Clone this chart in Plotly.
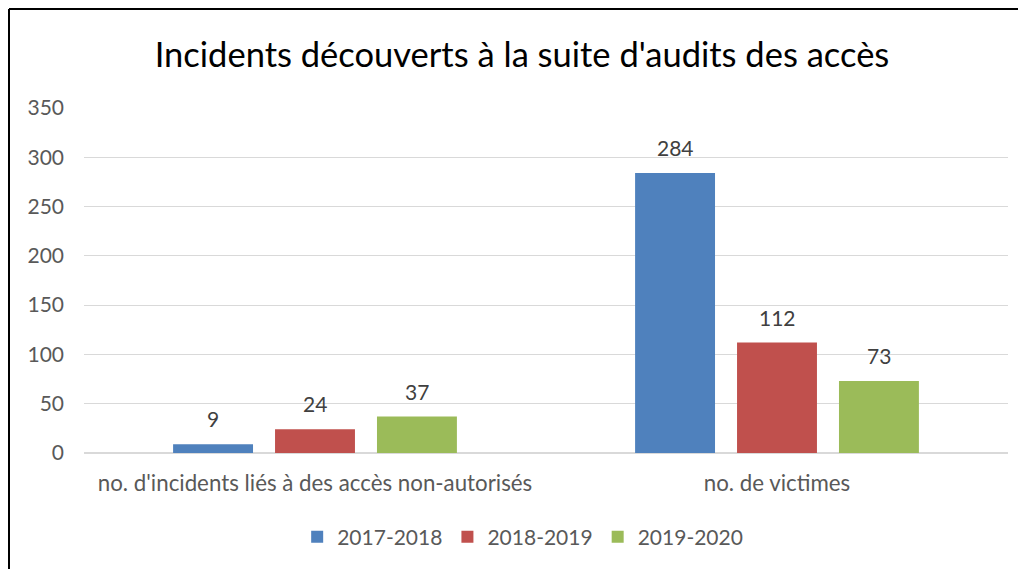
import plotly.graph_objects as go

categories = ["no. d'incidents liés à des accès non-autorisés", "no. de victimes"]
series_names = ["2017-2018", "2018-2019", "2019-2020"]
values_2017 = [9, 284]
values_2018 = [24, 112]
values_2019 = [37, 73]
colors = ["#4f81bd", "#c0504d", "#9bbb59"]
y_ticks = [0, 50, 100, 150, 200, 250, 300, 350]

FONT = "Lato, Open Sans, sans-serif"
series_values = [values_2017, values_2018, values_2019]

fig = go.Figure()
for name, vals, col in zip(series_names, series_values, colors):
    fig.add_trace(go.Bar(
        x=categories, y=vals, name=name, marker_color=col, marker_line_width=0,
    ))

# page has an 8px body margin, so the figure is drawn smaller and shifted
W, H = 1018, 561
L, R, T, B = 76, 18, 100, 116
pw, ph = W - L - R, H - T - B
bx = (1 - L) / pw
ty = (H - B - 1) / ph
rx = (W - L) / pw
slot_px = 102  # horizontal distance between bars inside a group

annotations = []
for i, vals in enumerate(series_values):
    for cat, v in zip(categories, vals):
        annotations.append(dict(
            x=cat, y=v, xref="x", yref="y", text=str(v), showarrow=False,
            xanchor="center", yanchor="bottom", xshift=(i - 1) * slot_px, yshift=11,
            font=dict(size=21, color="#404040", family=FONT),
        ))

fig.update_layout(
    width=W, height=H,
    margin=dict(l=L, r=R, t=T, b=B, autoexpand=False),
    paper_bgcolor="white", plot_bgcolor="white",
    barmode="group", bargap=0.338, bargroupgap=0.216,
    title=dict(text="Incidents découverts à la suite d'audits des accès",
               x=(514 - L) / pw, xanchor="center", y=1 - 47 / H, yanchor="middle",
               xref="paper",
               font=dict(size=34.5, color="#000000", family=FONT)),
    font=dict(family=FONT, color="#595959", size=21),
    xaxis=dict(showgrid=False, showline=False, ticks="", tickfont=dict(size=22.3, color="#595959"),
               ticklabelstandoff=15),
    yaxis=dict(range=[0, 350], tickvals=y_ticks, showgrid=True, gridcolor="#d9d9d9", gridwidth=1,
               zeroline=True, zerolinecolor="#d9d9d9", zerolinewidth=2,
               ticks="", tickfont=dict(size=21, color="#595959"), ticklabelstandoff=19),
    legend=dict(orientation="h", x=0.478 - 3 / pw, xanchor="center", y=(H - B - 529) / ph,
                yanchor="middle", font=dict(size=21, color="#595959"), itemwidth=30,
                traceorder="normal"),
    showlegend=True,
    annotations=annotations,
    shapes=[
        dict(type="line", xref="paper", yref="paper", x0=bx, x1=bx, y0=-0.5, y1=ty,
             line=dict(color="black", width=2)),
        dict(type="line", xref="paper", yref="paper", x0=bx, x1=rx, y0=ty, y1=ty,
             line=dict(color="black", width=2)),
    ],
)
fig.write_html("out.html")
